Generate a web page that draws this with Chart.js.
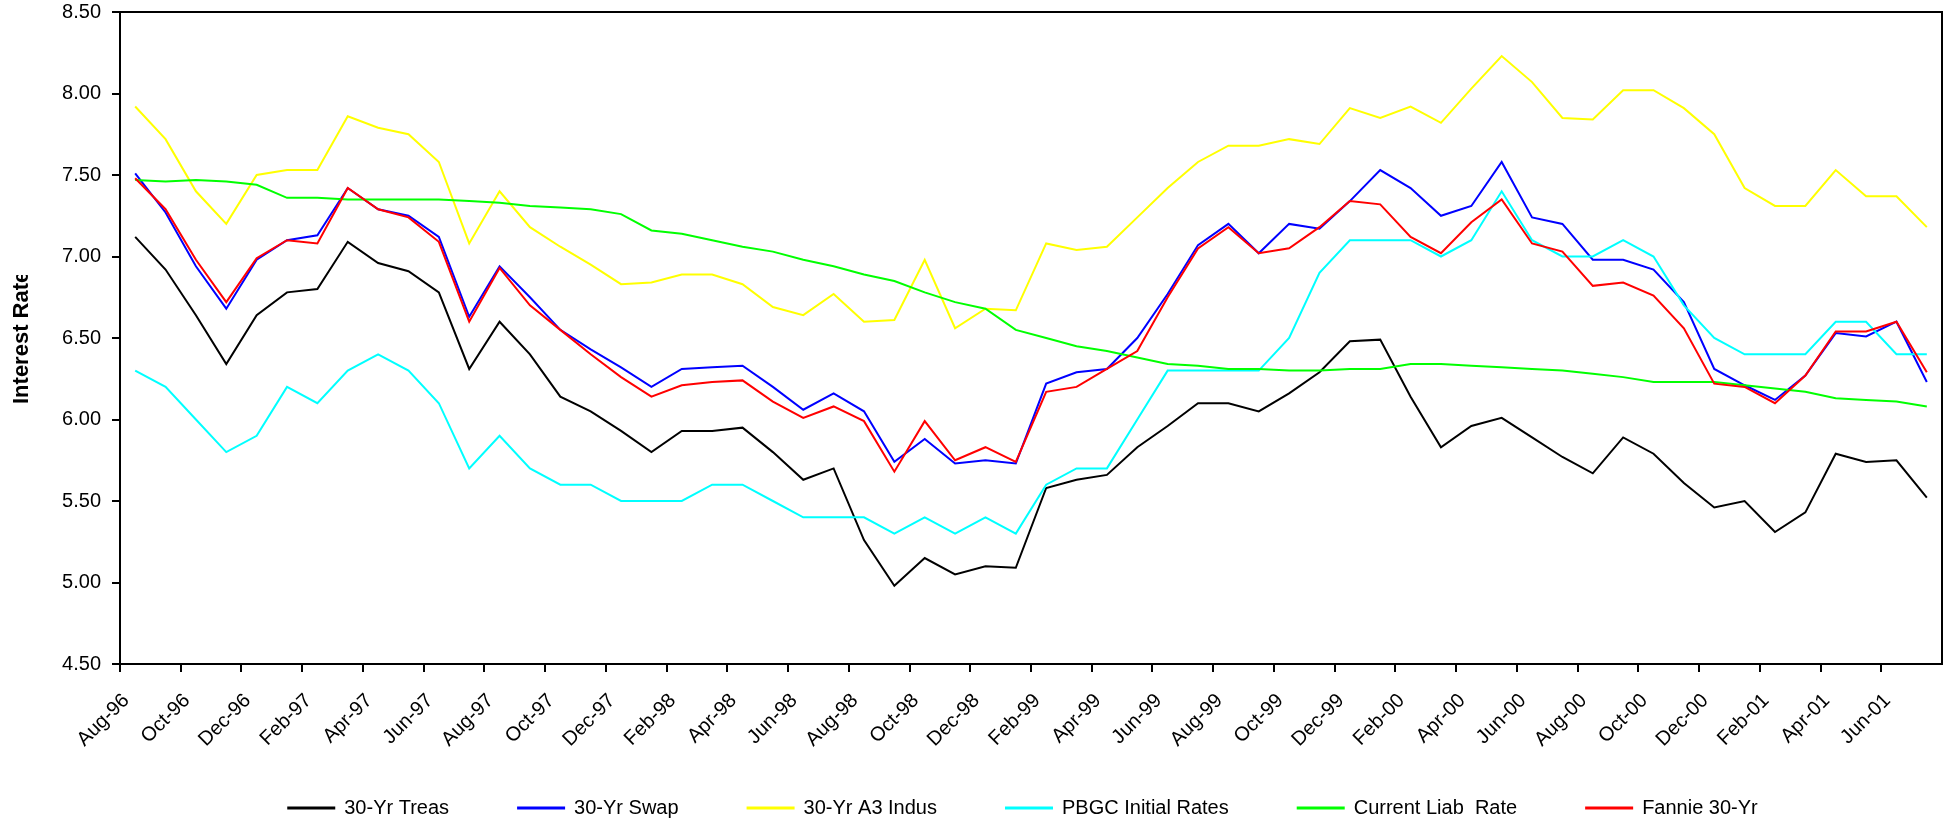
<!DOCTYPE html>
<html>
<head>
<meta charset="utf-8">
<title>Interest Rates</title>
<script src="https://cdn.jsdelivr.net/npm/chart.js@4"></script>
<style>
  html, body { margin: 0; padding: 0; background: #fff; }
  #wrap { width: 1951px; height: 823px; }
</style>
</head>
<body>
<div id="wrap"><canvas id="chart" width="1951" height="823"></canvas></div>
<script>
// Monthly categories, Aug-96 through Jul-01
const months = [
  'Aug-96','Sep-96','Oct-96','Nov-96','Dec-96','Jan-97','Feb-97','Mar-97','Apr-97','May-97','Jun-97','Jul-97',
  'Aug-97','Sep-97','Oct-97','Nov-97','Dec-97','Jan-98','Feb-98','Mar-98','Apr-98','May-98','Jun-98','Jul-98',
  'Aug-98','Sep-98','Oct-98','Nov-98','Dec-98','Jan-99','Feb-99','Mar-99','Apr-99','May-99','Jun-99','Jul-99',
  'Aug-99','Sep-99','Oct-99','Nov-99','Dec-99','Jan-00','Feb-00','Mar-00','Apr-00','May-00','Jun-00','Jul-00',
  'Aug-00','Sep-00','Oct-00','Nov-00','Dec-00','Jan-01','Feb-01','Mar-01','Apr-01','May-01','Jun-01','Jul-01'
];

const treas30 = [
  7.12, 6.92, 6.64, 6.34, 6.64, 6.78, 6.80, 7.09, 6.96, 6.91, 6.78, 6.31,
  6.60, 6.40, 6.14, 6.05, 5.93, 5.80, 5.93, 5.93, 5.95, 5.80, 5.63, 5.70,
  5.26, 4.98, 5.15, 5.05, 5.10, 5.09, 5.58, 5.63, 5.66, 5.83, 5.96, 6.10,
  6.10, 6.05, 6.16, 6.29, 6.48, 6.49, 6.14, 5.83, 5.96, 6.01, 5.89, 5.77,
  5.67, 5.89, 5.79, 5.61, 5.46, 5.50, 5.31, 5.43, 5.79, 5.74, 5.75, 5.52
];

const swap30 = [
  7.51, 7.27, 6.94, 6.68, 6.98, 7.10, 7.13, 7.42, 7.29, 7.25, 7.12, 6.63,
  6.94, 6.75, 6.55, 6.43, 6.32, 6.20, 6.31, 6.32, 6.33, 6.20, 6.06, 6.16,
  6.05, 5.74, 5.88, 5.73, 5.75, 5.73, 6.22, 6.29, 6.31, 6.50, 6.77, 7.07,
  7.20, 7.02, 7.20, 7.17, 7.34, 7.53, 7.42, 7.25, 7.31, 7.58, 7.24, 7.20,
  6.98, 6.98, 6.92, 6.72, 6.31, 6.21, 6.12, 6.27, 6.53, 6.51, 6.60, 6.23
];

const a3Indus30 = [
  7.92, 7.72, 7.40, 7.20, 7.50, 7.53, 7.53, 7.86, 7.79, 7.75, 7.58, 7.08,
  7.40, 7.18, 7.06, 6.95, 6.83, 6.84, 6.89, 6.89, 6.83, 6.69, 6.64, 6.77,
  6.60, 6.61, 6.98, 6.56, 6.68, 6.67, 7.08, 7.04, 7.06, 7.24, 7.42, 7.58,
  7.68, 7.68, 7.72, 7.69, 7.91, 7.85, 7.92, 7.82, 8.03, 8.23, 8.07, 7.85,
  7.84, 8.02, 8.02, 7.91, 7.75, 7.42, 7.31, 7.31, 7.53, 7.37, 7.37, 7.18
];

const pbgcInitial = [
  6.30, 6.20, 6.00, 5.80, 5.90, 6.20, 6.10, 6.30, 6.40, 6.30, 6.10, 5.70,
  5.90, 5.70, 5.60, 5.60, 5.50, 5.50, 5.50, 5.60, 5.60, 5.50, 5.40, 5.40,
  5.40, 5.30, 5.40, 5.30, 5.40, 5.30, 5.60, 5.70, 5.70, 6.00, 6.30, 6.30,
  6.30, 6.30, 6.50, 6.90, 7.10, 7.10, 7.10, 7.00, 7.10, 7.40, 7.10, 7.00,
  7.00, 7.10, 7.00, 6.70, 6.50, 6.40, 6.40, 6.40, 6.60, 6.60, 6.40, 6.40
];

const currentLiab = [
  7.47, 7.46, 7.47, 7.46, 7.44, 7.36, 7.36, 7.35, 7.35, 7.35, 7.35, 7.34,
  7.33, 7.31, 7.30, 7.29, 7.26, 7.16, 7.14, 7.10, 7.06, 7.03, 6.98, 6.94,
  6.89, 6.85, 6.78, 6.72, 6.68, 6.55, 6.50, 6.45, 6.42, 6.38, 6.34, 6.33,
  6.31, 6.31, 6.30, 6.30, 6.31, 6.31, 6.34, 6.34, 6.33, 6.32, 6.31, 6.30,
  6.28, 6.26, 6.23, 6.23, 6.23, 6.21, 6.19, 6.17, 6.13, 6.12, 6.11, 6.08
];

const fannie30 = [
  7.48, 7.29, 6.98, 6.72, 6.99, 7.10, 7.08, 7.42, 7.29, 7.24, 7.09, 6.60,
  6.93, 6.70, 6.55, 6.40, 6.26, 6.14, 6.21, 6.23, 6.24, 6.11, 6.01, 6.08,
  5.99, 5.68, 5.99, 5.75, 5.83, 5.74, 6.17, 6.20, 6.31, 6.42, 6.75, 7.05,
  7.18, 7.02, 7.05, 7.18, 7.34, 7.32, 7.12, 7.02, 7.21, 7.35, 7.08, 7.03,
  6.82, 6.84, 6.76, 6.56, 6.22, 6.20, 6.10, 6.27, 6.54, 6.54, 6.60, 6.29
];

const seriesNames = ['30-Yr Treas', '30-Yr Swap', '30-Yr A3 Indus', 'PBGC Initial Rates', 'Current Liab  Rate', 'Fannie 30-Yr'];
const seriesValues = [treas30, swap30, a3Indus30, pbgcInitial, currentLiab, fannie30];
const seriesColors = ['#000000', '#0000FF', '#FFFF00', '#00FFFF', '#00FF00', '#FF0000'];

const yMin = 4.5, yMax = 8.5, yStep = 0.5;
const axisTitle = 'Interest Rate';

const FONT = "'Liberation Sans', Arial, sans-serif";

// Later series are painted on top of earlier ones
const datasets = seriesNames.map((name, i) => ({
  label: name,
  data: seriesValues[i],
  borderColor: seriesColors[i],
  backgroundColor: seriesColors[i],
  borderWidth: 2,
  pointRadius: 0,
  pointHoverRadius: 0,
  tension: 0,
  fill: false,
  order: seriesNames.length - i
}));

// The legend box is stretched upward so its row sits just under the date labels
const legendShift = { dx: -8, raiseTop: 30 };

// Box around the plot area, the rotated value-axis title and legend placement
const frameAndTitle = {
  id: 'frameAndTitle',
  afterLayout(chart) {
    const lg = chart.legend;
    if (!lg) return;
    lg.left += legendShift.dx;
    lg.right += legendShift.dx;
    lg.top -= legendShift.raiseTop;
  },
  beforeDatasetsDraw(chart) {
    const { ctx, chartArea: a } = chart;
    ctx.save();
    ctx.strokeStyle = '#000';
    ctx.lineWidth = 2;
    ctx.strokeRect(a.left, a.top, a.right - a.left, a.bottom - a.top);
    ctx.restore();
  },
  afterDraw(chart) {
    const { ctx } = chart;
    ctx.save();
    ctx.beginPath();
    ctx.rect(0, 275, 80, 200);
    ctx.clip();
    ctx.translate(28, 404);
    ctx.rotate(-Math.PI / 2);
    ctx.font = "bold 22px " + FONT;
    ctx.fillStyle = '#000';
    ctx.textAlign = 'left';
    ctx.textBaseline = 'alphabetic';
    ctx.fillText(axisTitle, 0, 0);
    ctx.restore();
  }
};

new Chart(document.getElementById('chart'), {
  type: 'line',
  data: { labels: months, datasets },
  plugins: [frameAndTitle],
  options: {
    responsive: false,
    animation: false,
    devicePixelRatio: 1,
    layout: { padding: { left: 0, right: 9, top: 12, bottom: 0 } },
    plugins: {
      legend: {
        position: 'bottom',
        fullSize: false,
        maxHeight: 64,
        labels: {
          color: '#000',
          font: { family: FONT, size: 20 },
          boxWidth: 46,
          boxHeight: 1,
          padding: 69,
          sort: (a, b) => a.datasetIndex - b.datasetIndex
        }
      },
      tooltip: { enabled: false },
      title: { display: false }
    },
    scales: {
      x: {
        type: 'category',
        offset: true,
        grid: {
          offset: true,
          drawOnChartArea: false,
          drawTicks: true,
          tickLength: 8,
          lineWidth: 2,
          color: (ctx) => (ctx.index % 2 === 0 ? '#000' : 'rgba(0,0,0,0)')
        },
        border: { color: '#000', width: 2 },
        ticks: {
          autoSkip: false,
          minRotation: 45,
          maxRotation: 45,
          labelOffset: -9,
          padding: 17,
          color: '#000',
          font: { family: FONT, size: 20 },
          callback: (v, i) => (i % 2 === 0 ? months[i] : '')
        },
        afterFit: (s) => {
          s.height = 95;
          s.paddingLeft = 0;
          s.paddingRight = 0;
        }
      },
      y: {
        min: yMin,
        max: yMax,
        grid: {
          drawOnChartArea: false,
          drawTicks: true,
          tickLength: 8,
          lineWidth: 2,
          color: '#000'
        },
        border: { color: '#000', width: 2 },
        ticks: {
          stepSize: yStep,
          padding: 11,
          color: '#000',
          font: { family: FONT, size: 20 },
          callback: (v) => Number(v).toFixed(2)
        },
        afterFit: (s) => {
          s.width = 120;
          s.paddingTop = 0;
          s.paddingBottom = 0;
        }
      }
    }
  }
});
</script>
</body>
</html>
